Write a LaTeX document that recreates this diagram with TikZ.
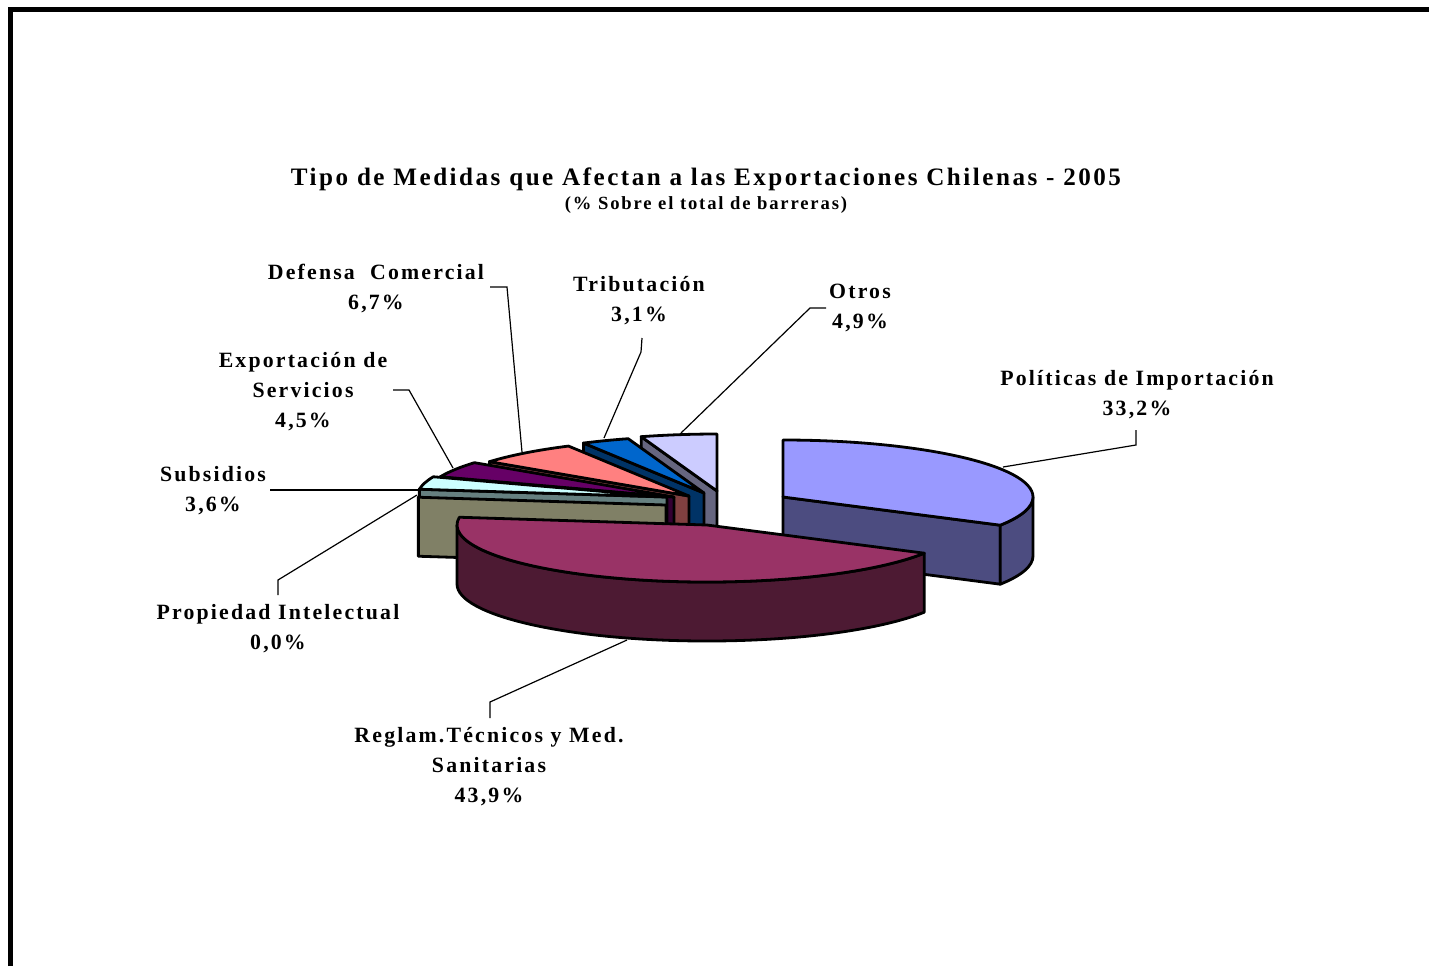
\documentclass[tikz,border=0pt]{standalone}
\usepackage{fontspec}
\setmainfont{Liberation Serif}
\newfontfamily\chartfont[LetterSpace=10]{Liberation Serif}
\definecolor{poT}{HTML}{9999FF}\definecolor{poS}{HTML}{4C4C80}
\definecolor{reT}{HTML}{993366}\definecolor{reS}{HTML}{4D1A33}
\definecolor{prS}{HTML}{808066}
\definecolor{suT}{HTML}{CCFFFF}\definecolor{suS}{HTML}{668080}
\definecolor{exT}{HTML}{660066}\definecolor{exS}{HTML}{330033}
\definecolor{deT}{HTML}{FF8080}\definecolor{deS}{HTML}{804040}
\definecolor{trT}{HTML}{0066CC}\definecolor{trS}{HTML}{003366}
\definecolor{otT}{HTML}{CCCCFF}\definecolor{otS}{HTML}{666680}
\tikzset{
  slice/.style={draw=black, line width=1.4pt, line join=round},
  leader/.style={draw=black, line width=0.6pt},
  lbl/.style={font=\fontsize{10.9}{15}\selectfont\chartfont\bfseries, align=center, inner sep=0pt},
  frame/.style={draw=black, line width=2.5pt},
}
% top face: cx cy t1 t2 colour
\newcommand\sltop[5]{\filldraw[slice,fill=#5] (#1,#2) -- ++({#3-90}:250 and 57) arc[start angle={#3-90},end angle={#4-90},x radius=250,y radius=57] -- cycle;}
% radial wall: cx cy t colour
\newcommand\slwall[4]{\filldraw[slice,fill=#4] (#1,#2) -- ++({#3-90}:250 and 57) -- ++(0,59) -- ++({#3+90}:250 and 57) -- cycle;}
% outer wall: cx cy s e colour
\newcommand\slside[5]{\filldraw[slice,fill=#5] (#1,#2) ++({#3-90}:250 and 57) arc[start angle={#3-90},end angle={#4-90},x radius=250,y radius=57] -- ++(0,59) arc[start angle={#4-90},end angle={#3-90},x radius=250,y radius=57] -- cycle;}
\begin{document}
\begin{tikzpicture}[x=0.5pt,y=-0.5pt]
\useasboundingbox (0,0) rectangle (1429,966);
\fill[white] (0,0) rectangle (1429,966);
\draw[frame] (10.5,966) -- (10.5,9.5) -- (1429,9.5);

% title
\node[font=\fontsize{12.55}{14}\selectfont\chartfont\bfseries, inner sep=0pt] (title) at (706,179) {Tipo de Medidas que Afectan a las Exportaciones Chilenas - 2005};
\node[font=\fontsize{9.3}{11}\selectfont\chartfont\bfseries, inner sep=0pt] (subtitle) at (706,205) {(\% Sobre el total de barreras)};

% slices, back to front
\slwall{717}{491}{342.34}{otS}
\sltop{717}{491}{342.34}{360}{otT}
\slwall{704}{493}{331.17}{trS}
\sltop{704}{493}{331.17}{342.34}{trT}
\slwall{689}{496}{307.03}{deS}
\sltop{689}{496}{307.03}{331.17}{deT}
\slwall{674}{497}{290.81}{exS}
\sltop{674}{497}{290.81}{307.03}{exT}
\slwall{667}{497}{277.84}{suS}
\sltop{667}{497}{277.84}{290.81}{suT}
\slwall{666}{505}{277.84}{prS}
\slwall{783}{497}{119.64}{poS}
\slside{783}{497}{90}{119.64}{poS}
\sltop{783}{497}{0}{119.64}{poT}
\slside{707}{525}{119.64}{270}{reS}
\sltop{707}{525}{119.64}{277.84}{reT}

% labels
\node[lbl] (pol) at (1137,394.5) {Políticas de Importación\\33,2\%};
\node[lbl] (otr) at (860,308) {Otros\\4,9\%};
\node[lbl] (tri) at (639,301) {Tributación\\3,1\%};
\node[lbl] (def) at (376,288) {Defensa\ \ Comercial\\6,7\%};
\node[lbl] (exp) at (303,391.5) {Exportación de\\Servicios\\4,5\%};
\node[lbl] (sub) at (213,491) {Subsidios\\3,6\%};
\node[lbl] (pro) at (278,629) {Propiedad Intelectual\\0,0\%};
\node[lbl] (reg) at (489,767) {Reglam.Técnicos y Med.\\Sanitarias\\43,9\%};

% leader points
\coordinate (pol1) at (1136,430); \coordinate (pol2) at (1136,445); \coordinate (pol3) at (1003,467);
\coordinate (otr1) at (826,308); \coordinate (otr2) at (810,308); \coordinate (otr3) at (681,433);
\coordinate (tri1) at (642,338); \coordinate (tri2) at (641,352); \coordinate (tri3) at (604,438);
\coordinate (def1) at (490,287); \coordinate (def2) at (507,287); \coordinate (def3) at (522,452);
\coordinate (exp1) at (393,390); \coordinate (exp2) at (409,390); \coordinate (exp3) at (453,468);
\coordinate (sub1) at (270,490); \coordinate (sub2) at (418,490);
\coordinate (pro1) at (278,595); \coordinate (pro2) at (278,580); \coordinate (pro3) at (417,495);
\coordinate (reg1) at (490,718); \coordinate (reg2) at (490,702); \coordinate (reg3) at (627,640);

\draw[leader] (pol1) -- (pol2) -- (pol3);
\draw[leader] (otr1) -- (otr2) -- (otr3);
\draw[leader] (tri1) -- (tri2) -- (tri3);
\draw[leader] (def1) -- (def2) -- (def3);
\draw[leader] (exp1) -- (exp2) -- (exp3);
\draw[leader] (sub1) -- (sub2);
\draw[leader] (pro1) -- (pro2) -- (pro3);
\draw[leader] (reg1) -- (reg2) -- (reg3);
\end{tikzpicture}
\end{document}
